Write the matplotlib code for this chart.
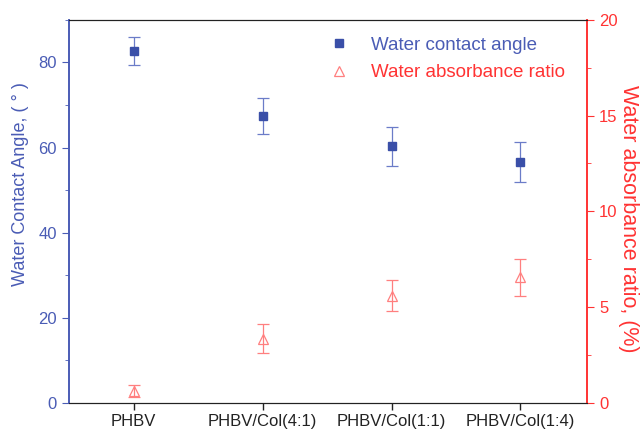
import matplotlib.pyplot as plt
from matplotlib.lines import Line2D
from matplotlib.ticker import MultipleLocator

plt.rcParams['font.family'] = ['Liberation Sans', 'DejaVu Sans']

# Data
samples = ["PHBV", "PHBV/Col(4:1)", "PHBV/Col(1:1)", "PHBV/Col(1:4)"]
contact_angle = [82.7, 67.4, 60.3, 56.7]
contact_angle_err = [3.3, 4.3, 4.6, 4.7]
absorbance = [0.62, 3.35, 5.6, 6.55]
absorbance_err = [0.3, 0.75, 0.8, 0.95]

blue = "#3a4fa8"
axis_blue = "#4a5cb5"
red = "#ff3333"
pink = "#ff7f7f"

x = list(range(len(samples)))

fig, ax = plt.subplots(figsize=(6.42, 4.33), dpi=100)
fig.subplots_adjust(left=0.107, right=0.915, top=0.954, bottom=0.07)
ax2 = ax.twinx()

ax.errorbar(x, contact_angle, yerr=contact_angle_err, fmt="s", color=blue,
            ecolor="#6b7cc8", elinewidth=0.9, capsize=4, capthick=0.9,
            markersize=6)
ax2.errorbar(x, absorbance, yerr=absorbance_err, fmt="^", mfc="none", mec=pink,
             ecolor=pink, elinewidth=0.9, capsize=4, capthick=0.9,
             markersize=7, markeredgewidth=0.9)

ax.set_xlim(-0.505, 3.52)
ax.set_ylim(0, 90)
ax2.set_ylim(0, 20)

ax.set_xticks(x)
ax.set_xticklabels(samples, fontsize=12)
ax.yaxis.set_major_locator(MultipleLocator(20))
ax.yaxis.set_minor_locator(MultipleLocator(10))
ax2.yaxis.set_major_locator(MultipleLocator(5))
ax2.yaxis.set_minor_locator(MultipleLocator(2.5))

ax.tick_params(axis="x", direction="out", length=5, width=1, colors="#222222")
ax.tick_params(axis="y", which="both", direction="out", colors=axis_blue, labelsize=12)
ax.tick_params(axis="y", which="major", length=5)
ax.tick_params(axis="y", which="minor", length=3)
ax2.tick_params(axis="y", which="both", direction="out", colors=red, labelsize=12)
ax2.tick_params(axis="y", which="major", length=5)
ax2.tick_params(axis="y", which="minor", length=3)

ax.set_ylabel("Water Contact Angle, ( ° )", color=axis_blue, fontsize=13)
ax.yaxis.set_label_coords(-0.076, 0.57)
ax2.set_ylabel("Water absorbance ratio, (%)", color=red, fontsize=15.5, rotation=270)
ax2.yaxis.set_label_coords(1.1, 0.48)

for a in (ax, ax2):
    a.spines["left"].set_color(axis_blue)
    a.spines["right"].set_color(red)
    a.spines["top"].set_color("#222222")
    a.spines["bottom"].set_color("#222222")
    a.spines["left"].set_linewidth(1.2)
    a.spines["right"].set_linewidth(1.2)

handles = [
    Line2D([], [], ls="none", marker="s", color=blue, markersize=6),
    Line2D([], [], ls="none", marker="^", mfc="none", mec=pink, markersize=7,
           markeredgewidth=0.9),
]
leg = ax.legend(handles, ["Water contact angle", "Water absorbance ratio"],
                loc="upper left", bbox_to_anchor=(0.47, 1.0), frameon=False,
                fontsize=13.5, handlelength=1.0, handletextpad=1.2,
                labelspacing=0.55)
for txt, c in zip(leg.get_texts(), [axis_blue, red]):
    txt.set_color(c)

plt.savefig("out.png", dpi=100)
